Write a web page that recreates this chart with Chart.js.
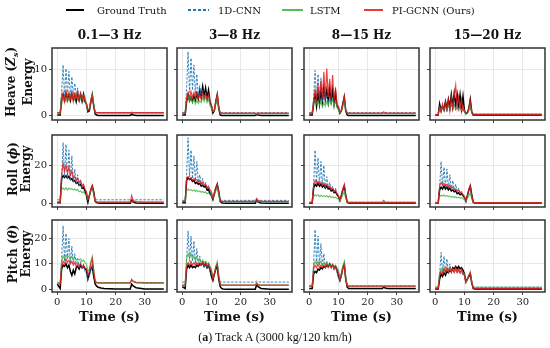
<!DOCTYPE html>
<html>
<head>
<meta charset="utf-8">
<script src="https://cdn.jsdelivr.net/npm/chart.js@4.4.0/dist/chart.umd.min.js"></script>
<style>
  body { margin: 0; width: 550px; height: 348px; position: relative; overflow: hidden; background: #fff; font-family: "DejaVu Serif", serif; color: #111; }
  canvas { position: absolute; }
  .txt { position: absolute; white-space: nowrap; transform: translate(-50%, -50%); }
  .ttl { font-weight: bold; font-size: 12px; }
  .ylab { font-weight: bold; font-size: 12px; line-height: 13px; text-align: center; transform: translate(-50%, -50%) rotate(-90deg); }
  .xlab { font-weight: bold; font-size: 13px; }
  .leg { position: absolute; font-size: 10px; white-space: nowrap; transform: translateY(-50%); }
  .sw { position: absolute; }
  .cap { font-family: "Liberation Serif", serif; font-size: 12px; }
</style>
</head>
<body>
<script>
// time axis (s)
const time = [0, 1, 1.5, 2, 2.5, 3, 3.5, 4, 4.5, 5, 5.5, 6, 6.5, 7, 7.5, 8, 8.5, 9, 9.5, 10, 10.5, 11, 11.5, 12, 12.5, 13,
  13.5, 14, 15, 16, 20, 24.5, 25, 25.5, 26, 27, 30, 36.5];

const bandTitles = ['0.1\u20143 Hz', '3\u20148 Hz', '8\u201415 Hz', '15\u201420 Hz'];
const rowLabels = ['Heave (<i>Z<sub style="font-size:8px">s</sub></i>)', 'Roll (<i>\u03d5</i>)', 'Pitch (<i>\u03b8</i>)'];
const seriesNames = ['Ground Truth', '1D-CNN', 'LSTM', 'PI-GCNN (Ours)'];
const xTicks = [0, 10, 20, 30];
const yTicks = [[0, 10], [0, 20], [0, 10, 20]];
const yRanges = [[-1, 14.7], [-2, 36], [-1.1, 27.3]];

// Heave
const heave1_gt = [0.1, 0.1, 3.8, 4.6, 3.4, 4.8, 3.6, 4.5, 3.2, 4.7, 3.5, 4.4, 3.0, 4.6, 3.3, 4.5, 3.1, 4.6, 3.0, 2.5, 0.8, 1.0, 3.0, 4.5, 2.0, 0.3,
  0.1, 0, 0, 0, 0, 0, 0, 0.3, 0.1, 0, 0, 0];
const heave1_cnn = [0.6, 0.6, 5.0, 11.0, 4.0, 10.2, 4.5, 9.6, 4.0, 8.4, 4.2, 7.0, 4.5, 6.0, 3.5, 5.2, 3.2, 4.6, 3.0, 2.5, 1.5, 1.2, 2.5, 4.2, 2.0, 0.7,
  0.6, 0.6, 0.6, 0.6, 0.6, 0.6, 0.6, 0.7, 0.6, 0.6, 0.6, 0.6];
const heave1_lstm = [0.4, 0.4, 4.5, 3.2, 4.2, 3.0, 4.0, 3.2, 4.4, 3.5, 4.3, 3.4, 4.6, 3.6, 4.5, 3.5, 4.4, 3.2, 4.0, 2.0, 1.2, 1.5, 3.5, 4.8, 2.5, 0.6,
  0.5, 0.5, 0.5, 0.5, 0.5, 0.5, 0.5, 0.7, 0.5, 0.5, 0.5, 0.5];
const heave1_gcnn = [0.6, 0.6, 2.5, 4.8, 3.0, 5.2, 3.2, 4.9, 3.5, 5.0, 3.0, 4.7, 3.8, 5.2, 3.3, 4.8, 3.5, 4.5, 3.4, 2.5, 1.0, 1.3, 3.3, 4.2, 2.0, 0.7,
  0.6, 0.6, 0.6, 0.6, 0.6, 0.6, 0.6, 0.5, 0.6, 0.6, 0.6, 0.6];

const heave2_gt = [0.1, 0.1, 3.0, 4.5, 3.2, 4.0, 3.0, 4.2, 3.3, 4.8, 3.6, 5.5, 4.0, 6.3, 4.2, 6.0, 3.8, 5.5, 3.0, 2.0, 0.5, 1.0, 3.0, 4.5, 1.5, 0.1,
  0, 0, 0, 0, 0, 0, 0, 0.2, 0.1, 0, 0, 0];
const heave2_cnn = [0.6, 0.6, 6.0, 13.9, 5.0, 12.5, 5.5, 11.0, 4.5, 9.0, 4.0, 6.5, 4.0, 5.5, 3.5, 5.0, 3.2, 4.5, 2.5, 2.0, 1.0, 1.0, 2.5, 4.5, 1.5, 0.7,
  0.6, 0.6, 0.6, 0.6, 0.6, 0.6, 0.6, 0.6, 0.6, 0.6, 0.6, 0.6];
const heave2_lstm = [0.4, 0.4, 3.5, 4.2, 3.0, 4.0, 2.8, 3.6, 2.5, 3.3, 2.6, 3.2, 2.8, 4.0, 3.0, 4.2, 2.8, 3.5, 2.2, 1.5, 0.8, 1.0, 2.5, 4.0, 1.5, 0.5,
  0.4, 0.4, 0.4, 0.4, 0.4, 0.4, 0.4, 0.4, 0.4, 0.4, 0.4, 0.4];
const heave2_gcnn = [0.5, 0.5, 4.0, 5.0, 3.8, 5.2, 4.0, 5.0, 3.8, 4.8, 3.6, 4.6, 3.5, 4.9, 3.8, 4.7, 3.6, 4.5, 3.0, 2.2, 1.0, 1.2, 3.2, 4.6, 2.0, 0.6,
  0.5, 0.5, 0.5, 0.5, 0.5, 0.5, 0.5, 0.1, 0.5, 0.5, 0.5, 0.5];

const heave3_gt = [0.1, 0.1, 2.5, 4.5, 2.0, 5.0, 2.5, 5.5, 3.0, 6.0, 3.5, 5.5, 3.0, 6.0, 3.2, 5.5, 2.5, 5.0, 2.0, 1.5, 0.5, 1.0, 2.5, 4.0, 1.0, 0.1,
  0, 0, 0, 0, 0, 0, 0, 0, 0, 0, 0, 0];
const heave3_cnn = [0.6, 0.6, 4.0, 9.8, 3.5, 9.0, 3.5, 8.2, 3.0, 5.5, 3.0, 4.5, 2.8, 4.0, 2.5, 3.8, 2.2, 3.2, 2.0, 1.5, 0.8, 1.0, 2.2, 3.5, 1.2, 0.7,
  0.6, 0.6, 0.6, 0.6, 0.6, 0.6, 0.6, 0.6, 0.6, 0.6, 0.6, 0.6];
const heave3_lstm = [0.4, 0.4, 2.8, 3.5, 2.5, 3.2, 2.2, 3.0, 1.8, 2.8, 2.0, 3.0, 2.2, 3.4, 2.5, 3.6, 2.2, 3.0, 1.8, 1.2, 0.6, 0.8, 2.0, 3.2, 1.0, 0.5,
  0.4, 0.4, 0.4, 0.4, 0.4, 0.4, 0.4, 0.4, 0.4, 0.4, 0.4, 0.4];
const heave3_gcnn = [0.5, 0.5, 3.0, 5.5, 3.5, 6.5, 3.8, 7.5, 4.0, 9.5, 3.5, 10.2, 4.0, 8.0, 3.5, 8.8, 3.0, 6.0, 2.5, 2.0, 0.8, 1.0, 2.5, 4.2, 1.2, 0.6,
  0.5, 0.5, 0.5, 0.5, 0.5, 0.5, 0.5, 0.8, 0.5, 0.5, 0.5, 0.5];

const heave4_gt = [0.1, 0.1, 2.5, 1.0, 2.0, 1.2, 3.0, 1.5, 3.5, 1.8, 4.5, 2.0, 4.8, 2.2, 4.6, 2.0, 4.5, 1.5, 4.2, 1.0, 0.4, 0.6, 1.5, 3.5, 0.8, 0.1,
  0.1, 0.1, 0.1, 0.1, 0.1, 0.1, 0.1, 0.1, 0.1, 0.1, 0.1, 0.1];
const heave4_cnn = [0.2, 0.2, 2.0, 1.2, 2.2, 1.0, 1.8, 0.8, 2.5, 1.0, 2.8, 1.2, 3.0, 1.0, 2.8, 1.2, 2.5, 1.0, 2.0, 0.8, 0.3, 0.5, 1.2, 2.8, 0.6, 0.3,
  0.3, 0.3, 0.3, 0.3, 0.3, 0.3, 0.3, 0.3, 0.3, 0.3, 0.3, 0.3];
const heave4_lstm = [0.2, 0.2, 1.5, 1.0, 1.6, 1.2, 1.8, 1.4, 2.0, 1.5, 2.2, 1.6, 2.0, 1.5, 1.8, 1.4, 1.6, 1.2, 1.4, 0.8, 0.3, 0.5, 1.0, 2.2, 0.5, 0.3,
  0.3, 0.3, 0.3, 0.3, 0.3, 0.3, 0.3, 0.3, 0.3, 0.3, 0.3, 0.3];
const heave4_gcnn = [0.2, 0.2, 1.8, 0.8, 2.5, 1.2, 3.0, 1.5, 3.5, 1.0, 4.0, 1.5, 4.2, 6.5, 1.8, 4.0, 1.5, 3.5, 1.0, 1.2, 0.4, 0.5, 1.5, 3.2, 0.6, 0.2,
  0.2, 0.2, 0.2, 0.2, 0.2, 0.2, 0.2, 0.2, 0.2, 0.2, 0.2, 0.2];

// Roll
const roll1_gt = [0.2, 0.2, 13.0, 14.5, 13.5, 14.5, 13.2, 14.2, 12.5, 13.0, 11.5, 12.0, 10.5, 11.0, 9.5, 10.0, 8.0, 8.5, 6.5, 4.0, 0.5, 4.0, 7.0, 9.0, 6.0, 1.0,
  0.3, 0.1, 0, 0, 0, 0, 0, 1.5, 0.6, 0.1, 0, 0];
const roll1_cnn = [1.8, 1.8, 12.0, 32.0, 14.0, 31.0, 13.0, 28.0, 12.0, 25.0, 11.0, 18.0, 10.0, 15.0, 9.0, 12.0, 8.0, 10.0, 7.0, 6.0, 2.5, 4.0, 7.0, 9.0, 5.0, 2.0,
  1.8, 1.8, 1.8, 1.8, 1.8, 1.8, 1.8, 1.8, 1.8, 1.8, 1.8, 1.8];
const roll1_lstm = [0.8, 0.8, 7.0, 8.0, 7.2, 8.2, 7.0, 8.0, 7.3, 7.8, 7.0, 7.5, 6.8, 7.2, 6.0, 6.5, 5.5, 6.0, 5.0, 4.5, 2.0, 3.5, 6.5, 8.0, 4.5, 1.2,
  0.8, 0.8, 0.8, 0.8, 0.8, 0.8, 0.8, 0.8, 0.8, 0.8, 0.8, 0.8];
const roll1_gcnn = [0.5, 0.5, 15.0, 21.0, 17.0, 20.0, 16.0, 19.0, 15.0, 17.0, 13.0, 14.0, 12.0, 13.0, 11.0, 12.0, 9.0, 10.0, 7.5, 6.0, 2.0, 4.0, 7.5, 9.5, 5.0, 1.0,
  0.5, 0.5, 0.5, 0.5, 0.5, 0.5, 0.5, 4.0, 1.5, 0.7, 0.5, 0.5];

const roll2_gt = [0.2, 0.2, 12.0, 13.5, 12.5, 13.0, 11.5, 12.0, 10.5, 11.0, 10.0, 10.5, 9.0, 9.5, 8.5, 9.0, 7.0, 7.5, 5.0, 4.0, 2.0, 5.0, 8.0, 10.0, 6.0, 1.0,
  0.2, 0.1, 0, 0, 0, 0, 0, 1.5, 0.6, 0.1, 0, 0];
const roll2_cnn = [1.5, 1.5, 15.0, 34.5, 14.0, 28.0, 13.0, 25.0, 12.0, 22.0, 11.0, 15.0, 10.0, 13.0, 9.0, 11.0, 8.0, 9.0, 6.0, 5.0, 3.0, 5.0, 8.0, 10.0, 5.0, 1.8,
  1.5, 1.5, 1.5, 1.5, 1.5, 1.5, 1.5, 1.5, 1.5, 1.5, 1.5, 1.5];
const roll2_lstm = [0.8, 0.8, 6.5, 7.5, 6.8, 7.2, 6.5, 7.0, 6.2, 6.8, 6.0, 6.5, 5.8, 6.2, 5.5, 6.0, 5.0, 5.5, 4.5, 4.0, 2.5, 4.0, 6.5, 8.0, 4.0, 1.2,
  0.8, 0.8, 0.8, 0.8, 0.8, 0.8, 0.8, 0.8, 0.8, 0.8, 0.8, 0.8];
const roll2_gcnn = [1.0, 1.0, 13.0, 14.0, 12.5, 13.5, 12.0, 13.0, 12.0, 12.5, 11.0, 12.0, 10.0, 11.0, 9.5, 10.0, 8.0, 9.0, 7.0, 6.0, 3.0, 5.5, 8.5, 10.0, 6.0, 1.5,
  1.0, 1.0, 1.0, 1.0, 1.0, 1.0, 1.0, 2.5, 1.5, 1.0, 1.0, 1.0];

const roll3_gt = [0.1, 0.1, 8.0, 10.0, 9.0, 10.5, 9.0, 10.0, 8.5, 9.5, 8.0, 9.0, 7.5, 8.0, 6.5, 7.0, 5.5, 6.0, 4.5, 3.5, 1.5, 4.0, 7.0, 9.0, 4.0, 0.5,
  0.1, 0.1, 0.1, 0.1, 0.1, 0.1, 0.1, 0.1, 0.1, 0.1, 0.1, 0.1];
const roll3_cnn = [0.5, 0.5, 10.0, 28.0, 11.0, 24.0, 10.0, 22.0, 9.0, 20.0, 8.0, 14.0, 8.0, 11.0, 7.0, 9.0, 6.0, 8.0, 5.0, 4.0, 1.5, 3.5, 7.0, 9.0, 4.0, 0.6,
  0.5, 0.5, 0.5, 0.5, 0.5, 0.5, 0.5, 0.5, 0.5, 0.5, 0.5, 0.5];
const roll3_lstm = [0.4, 0.4, 3.5, 4.5, 3.8, 4.5, 3.6, 4.2, 3.5, 4.0, 3.4, 4.0, 3.2, 3.8, 3.0, 3.5, 2.8, 3.2, 2.5, 2.2, 1.0, 2.5, 4.5, 6.0, 2.5, 0.5,
  0.4, 0.4, 0.4, 0.4, 0.4, 0.4, 0.4, 0.4, 0.4, 0.4, 0.4, 0.4];
const roll3_gcnn = [0.4, 0.4, 10.0, 12.0, 10.5, 11.5, 10.0, 11.0, 9.5, 10.5, 9.0, 10.0, 8.5, 9.0, 7.5, 8.0, 6.0, 7.0, 5.0, 4.0, 1.5, 4.5, 7.5, 10.0, 4.5, 0.6,
  0.4, 0.4, 0.4, 0.4, 0.4, 0.4, 0.4, 1.5, 0.6, 0.4, 0.4, 0.4];

const roll4_gt = [0.1, 0.1, 7.0, 8.5, 7.5, 9.0, 7.5, 8.5, 7.0, 8.0, 6.5, 7.0, 6.0, 6.5, 5.0, 5.5, 4.5, 5.0, 4.0, 3.0, 1.0, 4.0, 7.0, 9.0, 4.5, 0.5,
  0.1, 0.1, 0.1, 0.1, 0.1, 0.1, 0.1, 0.1, 0.1, 0.1, 0.1, 0.1];
const roll4_cnn = [0.4, 0.4, 9.0, 22.0, 9.0, 19.0, 8.5, 18.0, 8.0, 15.0, 7.0, 12.0, 7.0, 10.0, 6.0, 8.0, 5.0, 6.0, 4.5, 3.5, 1.5, 3.5, 6.5, 8.5, 4.0, 0.5,
  0.4, 0.4, 0.4, 0.4, 0.4, 0.4, 0.4, 0.4, 0.4, 0.4, 0.4, 0.4];
const roll4_lstm = [0.3, 0.3, 3.5, 4.2, 3.8, 4.3, 3.6, 4.0, 3.5, 3.8, 3.2, 3.6, 3.0, 3.4, 2.8, 3.2, 2.6, 3.0, 2.4, 2.0, 1.0, 2.5, 4.0, 5.5, 2.0, 0.4,
  0.3, 0.3, 0.3, 0.3, 0.3, 0.3, 0.3, 0.3, 0.3, 0.3, 0.3, 0.3];
const roll4_gcnn = [0.3, 0.3, 9.0, 11.0, 9.5, 10.5, 9.0, 10.0, 8.5, 9.5, 8.0, 8.5, 7.0, 7.5, 6.5, 7.0, 5.5, 6.0, 4.5, 3.5, 1.5, 4.0, 7.0, 9.5, 4.0, 0.4,
  0.3, 0.3, 0.3, 0.3, 0.3, 0.3, 0.3, 0.3, 0.3, 0.3, 0.3, 0.3];

// Pitch
const pitch1_gt = [2.0, 0.3, 8.0, 9.5, 9.0, 10.0, 8.5, 9.5, 7.0, 5.5, 7.5, 6.0, 8.5, 9.0, 8.0, 9.5, 8.5, 9.0, 8.0, 7.5, 4.0, 6.0, 8.0, 9.0, 5.0, 2.0,
  1.2, 0.8, 0.5, 0.3, 0.1, 0.1, 0.1, 2.0, 1.3, 0.6, 0.1, 0.1];
const pitch1_cnn = [2.5, 2.5, 12.0, 25.0, 11.0, 22.0, 12.0, 20.0, 10.0, 17.0, 10.0, 14.0, 9.0, 12.0, 8.5, 11.0, 8.0, 10.0, 7.0, 6.0, 4.0, 5.0, 8.0, 10.0, 6.0, 3.0,
  2.6, 2.6, 2.6, 2.6, 2.6, 2.6, 2.6, 3.5, 3.0, 2.7, 2.6, 2.6];
const pitch1_lstm = [2.5, 2.5, 11.0, 13.0, 12.0, 13.5, 12.5, 13.0, 12.0, 13.0, 12.0, 12.5, 11.5, 12.0, 11.5, 12.0, 11.0, 11.5, 10.5, 10.0, 7.0, 8.0, 11.0, 13.0, 8.0, 3.5,
  2.7, 2.6, 2.6, 2.6, 2.6, 2.6, 2.6, 3.8, 3.2, 2.8, 2.6, 2.6];
const pitch1_gcnn = [2.0, 2.0, 9.0, 11.0, 10.0, 12.0, 10.5, 11.5, 10.0, 11.0, 9.5, 10.5, 9.0, 10.0, 9.0, 10.0, 8.5, 9.5, 8.5, 8.0, 5.5, 7.0, 10.0, 12.0, 7.0, 3.0,
  2.5, 2.4, 2.4, 2.4, 2.4, 2.4, 2.4, 3.8, 3.0, 2.5, 2.4, 2.4];

const pitch2_gt = [1.0, 0.3, 8.0, 9.5, 8.5, 9.5, 8.5, 9.0, 8.5, 9.5, 9.0, 10.0, 9.5, 10.5, 9.0, 10.0, 8.5, 9.5, 7.5, 5.0, 3.5, 6.0, 8.0, 9.0, 4.0, 1.0,
  0.3, 0.1, 0, 0, 0, 0, 0, 1.8, 1.0, 0.3, 0, 0];
const pitch2_cnn = [2.8, 2.8, 12.0, 23.0, 11.0, 21.0, 11.0, 19.0, 10.0, 16.0, 10.0, 13.0, 9.0, 11.0, 8.5, 10.0, 8.0, 9.5, 7.0, 6.0, 4.0, 5.5, 8.0, 10.0, 5.0, 3.0,
  2.8, 2.8, 2.8, 2.8, 2.8, 2.8, 2.8, 3.2, 2.9, 2.8, 2.8, 2.8];
const pitch2_lstm = [1.6, 1.6, 12.0, 14.0, 12.5, 14.0, 12.0, 13.0, 11.5, 12.5, 11.0, 12.0, 10.5, 11.5, 10.5, 11.0, 10.0, 10.5, 9.0, 8.0, 5.0, 6.5, 9.0, 11.0, 5.5, 2.0,
  1.7, 1.6, 1.6, 1.6, 1.6, 1.6, 1.6, 2.0, 1.7, 1.6, 1.6, 1.6];
const pitch2_gcnn = [1.6, 1.6, 9.0, 10.5, 9.5, 11.0, 9.5, 10.5, 9.5, 10.5, 9.5, 10.5, 9.5, 10.5, 9.5, 10.5, 9.0, 10.0, 8.5, 7.0, 4.0, 6.0, 9.0, 10.0, 5.0, 2.0,
  1.6, 1.6, 1.6, 1.6, 1.6, 1.6, 1.6, 2.5, 1.8, 1.6, 1.6, 1.6];

const pitch3_gt = [0.3, 0.3, 6.0, 7.0, 6.5, 8.0, 7.5, 8.5, 8.0, 9.0, 8.5, 9.5, 9.0, 10.0, 9.0, 9.5, 8.5, 9.0, 7.5, 5.0, 3.5, 5.5, 8.5, 10.0, 4.0, 0.8,
  0.3, 0.3, 0.3, 0.3, 0.3, 0.3, 0.3, 0.8, 0.5, 0.3, 0.3, 0.3];
const pitch3_cnn = [1.3, 1.3, 10.0, 23.5, 10.0, 21.0, 9.5, 18.0, 9.0, 14.0, 8.5, 11.0, 8.5, 10.0, 8.0, 9.5, 7.5, 9.0, 6.5, 5.5, 3.5, 5.0, 8.0, 10.0, 4.5, 1.5,
  1.3, 1.3, 1.3, 1.3, 1.3, 1.3, 1.3, 1.3, 1.3, 1.3, 1.3, 1.3];
const pitch3_lstm = [1.2, 1.2, 9.5, 11.0, 10.0, 11.0, 10.0, 11.0, 9.5, 10.5, 9.5, 10.5, 9.5, 10.0, 9.0, 10.0, 9.0, 9.5, 8.5, 7.5, 4.5, 6.5, 9.0, 11.0, 5.0, 1.5,
  1.2, 1.2, 1.2, 1.2, 1.2, 1.2, 1.2, 1.2, 1.2, 1.2, 1.2, 1.2];
const pitch3_gcnn = [1.2, 1.2, 8.0, 9.5, 8.5, 10.0, 8.5, 9.5, 8.5, 9.5, 8.5, 10.0, 8.5, 9.5, 8.5, 9.5, 8.0, 9.0, 7.5, 6.5, 3.5, 5.5, 8.0, 9.5, 4.0, 1.3,
  1.2, 1.2, 1.2, 1.2, 1.2, 1.2, 1.2, 1.2, 1.2, 1.2, 1.2, 1.2];

const pitch4_gt = [0.1, 0.1, 4.0, 6.0, 5.0, 6.5, 5.5, 7.0, 6.5, 7.5, 7.0, 8.5, 8.0, 9.0, 8.0, 9.0, 8.0, 8.5, 7.5, 6.0, 3.0, 4.0, 5.0, 6.0, 2.5, 0.3,
  0.1, 0.1, 0.1, 0.1, 0.1, 0.1, 0.1, 0.1, 0.1, 0.1, 0.1, 0.1];
const pitch4_cnn = [0.8, 0.8, 6.0, 14.5, 6.5, 13.0, 7.0, 12.0, 6.5, 10.0, 6.5, 8.0, 6.5, 7.5, 6.5, 7.5, 6.0, 7.0, 5.5, 5.0, 2.5, 3.5, 5.0, 6.5, 3.0, 0.9,
  0.8, 0.8, 0.8, 0.8, 0.8, 0.8, 0.8, 0.8, 0.8, 0.8, 0.8, 0.8];
const pitch4_lstm = [0.8, 0.8, 6.5, 8.0, 7.0, 8.5, 7.0, 8.0, 7.0, 7.8, 7.0, 7.8, 7.0, 7.5, 6.8, 7.5, 6.8, 7.2, 6.5, 6.0, 3.0, 4.0, 5.5, 7.0, 3.0, 0.9,
  0.8, 0.8, 0.8, 0.8, 0.8, 0.8, 0.8, 0.8, 0.8, 0.8, 0.8, 0.8];
const pitch4_gcnn = [0.3, 0.3, 5.5, 7.0, 6.0, 8.0, 6.5, 8.5, 7.0, 8.5, 6.5, 8.0, 6.5, 8.5, 6.5, 8.0, 6.5, 8.0, 6.0, 5.5, 2.5, 4.0, 5.5, 6.5, 3.0, 0.4,
  0.3, 0.3, 0.3, 0.3, 0.3, 0.3, 0.3, 0.3, 0.3, 0.3, 0.3, 0.3];

const panels = [
  [[heave1_gt, heave1_cnn, heave1_lstm, heave1_gcnn], [heave2_gt, heave2_cnn, heave2_lstm, heave2_gcnn],
   [heave3_gt, heave3_cnn, heave3_lstm, heave3_gcnn], [heave4_gt, heave4_cnn, heave4_lstm, heave4_gcnn]],
  [[roll1_gt, roll1_cnn, roll1_lstm, roll1_gcnn], [roll2_gt, roll2_cnn, roll2_lstm, roll2_gcnn],
   [roll3_gt, roll3_cnn, roll3_lstm, roll3_gcnn], [roll4_gt, roll4_cnn, roll4_lstm, roll4_gcnn]],
  [[pitch1_gt, pitch1_cnn, pitch1_lstm, pitch1_gcnn], [pitch2_gt, pitch2_cnn, pitch2_lstm, pitch2_gcnn],
   [pitch3_gt, pitch3_cnn, pitch3_lstm, pitch3_gcnn], [pitch4_gt, pitch4_cnn, pitch4_lstm, pitch4_gcnn]]
];

// styles
const colors = ['#000000', '#1f77b4', 'rgba(60,175,60,0.8)', 'rgba(230,25,25,0.82)'];
const widths = [1.5, 0.9, 1.1, 1.2];
const dashes = [[], [2.5, 1.5], [], []];
const orders = [3, 2, 1, 0];

// layout
const colLeft = [52, 177, 304, 430];
const rowTop = [43, 130, 215];
const PW = 115, PH = 77, PADL = 30, PADT = 3, PADR = 3, PADB = 20;
const xMin = -1.8, xMax = 37.6;

const boxBorder = {
  id: 'boxBorder',
  afterDatasetsDraw(chart) {
    const a = chart.chartArea, c = chart.ctx;
    c.save();
    c.strokeStyle = '#333';
    c.lineWidth = 1.5;
    c.strokeRect(a.left, a.top, a.right - a.left, a.bottom - a.top);
    c.restore();
  }
};

function addText(cls, html, x, y) {
  const d = document.createElement('div');
  d.className = cls;
  d.innerHTML = html;
  d.style.left = x + 'px';
  d.style.top = y + 'px';
  document.body.appendChild(d);
  return d;
}

function makePanel(r, c) {
  const vals = panels[r][c];
  const cv = document.createElement('canvas');
  cv.width = PW + PADL + PADR;
  cv.height = PH + PADT + PADB;
  cv.style.left = (colLeft[c] - PADL) + 'px';
  cv.style.top = (rowTop[r] - PADT) + 'px';
  document.body.appendChild(cv);

  const tickFont = { family: 'DejaVu Serif', size: 10 };
  new Chart(cv, {
    type: 'line',
    data: {
      datasets: vals.map((v, i) => ({
        label: seriesNames[i],
        data: time.map((t, k) => ({ x: t, y: v[k] })),
        borderColor: colors[i],
        borderWidth: widths[i],
        borderDash: dashes[i],
        order: orders[i],
        pointRadius: 0,
        tension: 0,
        fill: false
      }))
    },
    options: {
      responsive: false,
      animation: false,
      devicePixelRatio: 1,
      layout: { padding: { left: 0, top: PADT, right: PADR, bottom: 0 } },
      plugins: { legend: { display: false }, tooltip: { enabled: false } },
      scales: {
        x: {
          type: 'linear', min: xMin, max: xMax,
          afterBuildTicks: s => { s.ticks = xTicks.map(v => ({ value: v })); },
          afterFit: s => { s.height = PADB; },
          grid: { color: '#e8e8e8', tickColor: '#444', tickLength: 3 },
          border: { display: false },
          ticks: { autoSkip: false, maxRotation: 0, padding: 1, color: '#222', font: tickFont,
                   callback: v => (r === 2 ? v : '') }
        },
        y: {
          type: 'linear', min: yRanges[r][0], max: yRanges[r][1],
          afterBuildTicks: s => { s.ticks = yTicks[r].map(v => ({ value: v })); },
          afterFit: s => { s.width = PADL; },
          grid: { color: '#e8e8e8', tickColor: '#444', tickLength: 3 },
          border: { display: false },
          ticks: { autoSkip: false, padding: 2, color: '#222', font: tickFont,
                   callback: v => (c === 0 ? v : '') }
        }
      }
    },
    plugins: [boxBorder]
  });
}

for (let r = 0; r < 3; r++) {
  for (let c = 0; c < 4; c++) makePanel(r, c);
}

// column titles, x labels
for (let c = 0; c < 4; c++) {
  addText('txt ttl', bandTitles[c], colLeft[c] + PW / 2, 35);
  addText('txt xlab', 'Time (s)', colLeft[c] + PW / 2, 316);
}
// row labels
for (let r = 0; r < 3; r++) {
  addText('txt ylab', rowLabels[r] + '<br>Energy', 20, rowTop[r] + PH / 2);
}

// legend
const legX = [[66, 84, 97], [188, 209, 218], [282, 303, 310], [364, 383, 392]];
const legBg = ['#000',
  'repeating-linear-gradient(to right, #1f77b4 0 3px, transparent 3px 5px)',
  'rgba(60,175,60,0.85)', 'rgba(230,25,25,0.85)'];
const legH = [1.6, 1.2, 1.2, 1.2];
for (let i = 0; i < 4; i++) {
  const sw = document.createElement('div');
  sw.className = 'sw';
  sw.style.left = legX[i][0] + 'px';
  sw.style.width = (legX[i][1] - legX[i][0]) + 'px';
  sw.style.top = (10 - legH[i] / 2) + 'px';
  sw.style.height = legH[i] + 'px';
  sw.style.background = legBg[i];
  document.body.appendChild(sw);
  addText('leg', seriesNames[i], legX[i][2], 10);
}

addText('txt cap', '(<b>a</b>) Track A (3000 kg/120 km/h)', 275, 337);
</script>
</body>
</html>
